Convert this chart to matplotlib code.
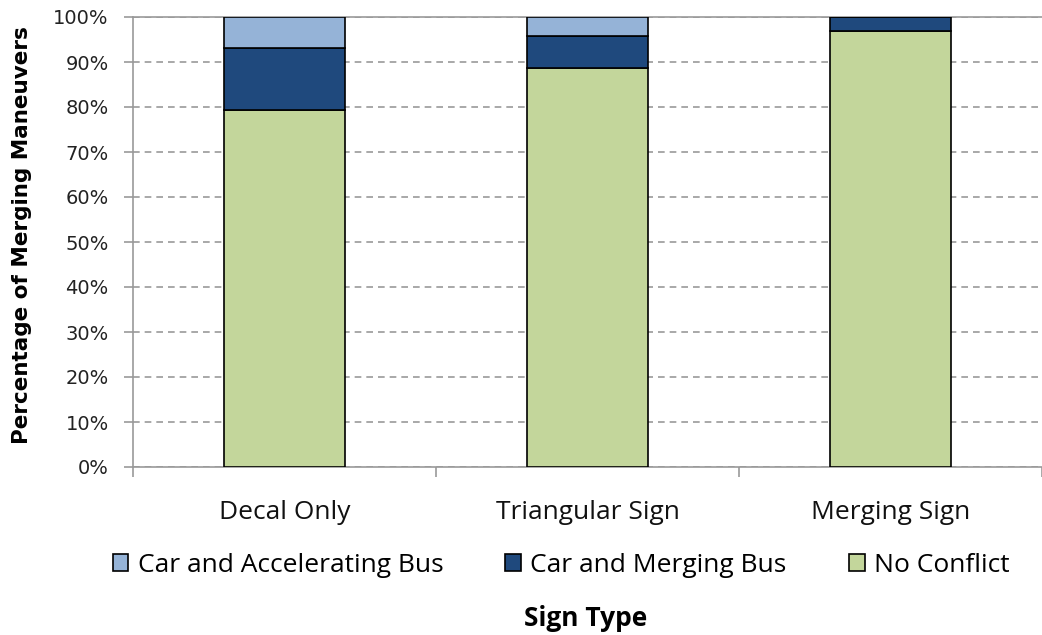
import matplotlib.pyplot as plt
import numpy as np

categories = ['Decal Only', 'Triangular Sign', 'Merging Sign']
no_conflict = [79.3, 88.6, 97.0]
car_merging_bus = [13.8, 7.2, 3.0]
car_accel_bus = [6.9, 4.2, 0.0]

series = [
    ('No Conflict', no_conflict, '#c3d69b'),
    ('Car and Merging Bus', car_merging_bus, '#1f497d'),
    ('Car and Accelerating Bus', car_accel_bus, '#95b3d7'),
]

fig = plt.figure(figsize=(10.42, 6.35), dpi=100)
ax = fig.add_axes([133 / 1042, 168 / 635, (1042 - 133) / 1042, 450 / 635])

x = np.arange(len(categories))
bottom = np.zeros(len(categories))
handles = {}
for name, vals, col in series:
    vals = np.array(vals)
    b = ax.bar(x, vals, 0.4, bottom=bottom, color=col, edgecolor='black',
               linewidth=1.2, label=name, zorder=3)
    handles[name] = b
    bottom += vals

ax.set_ylim(0, 100)
ax.set_xlim(-0.5, 2.463)
ax.set_yticks(np.arange(0, 101, 10))
ax.set_yticklabels([f'{v}%' for v in range(0, 101, 10)], fontsize=14,
                   family='DejaVu Sans', color='#222222')
ax.yaxis.grid(True, linestyle=(0, (4, 3)), color='#999999', linewidth=1.2)
ax.set_axisbelow(True)

ax.set_xticks([-0.5, 0.5, 1.5, 2.5])
ax.set_xticklabels([])
ax.tick_params(axis='x', length=7, color='#999999', width=1.2, direction='out')
ax.tick_params(axis='y', length=6.5, color='#999999', width=1.2,
               direction='out', pad=11)
for i, c in enumerate(categories):
    ax.text(i, -7.3, c, ha='center', va='top', fontsize=19, family='Open Sans',
            color='#111111', clip_on=False)

for s in ['left', 'bottom', 'top']:
    ax.spines[s].set_color('#999999')
    ax.spines[s].set_linewidth(1.2)
ax.spines['right'].set_visible(False)

ax.set_ylabel('Percentage of Merging Maneuvers', fontsize=15.5,
              family='DejaVu Sans', fontweight='bold')
ax.yaxis.set_label_coords(-0.111, 0.516)
fig.text(586 / 1042, 1 - 618 / 635, 'Sign Type', ha='center', va='center',
         fontsize=19, family='Open Sans', fontweight='bold')

order = ['Car and Accelerating Bus', 'Car and Merging Bus', 'No Conflict']
fig.legend([handles[n] for n in order], order, loc='center',
           bbox_to_anchor=(561 / 1042, 1 - 565 / 635), ncol=3, frameon=False,
           prop={'family': 'Open Sans', 'size': 19}, handlelength=0.6,
           handleheight=0.6, handletextpad=0.35, columnspacing=2.35)

fig.savefig('out.png', dpi=100)
